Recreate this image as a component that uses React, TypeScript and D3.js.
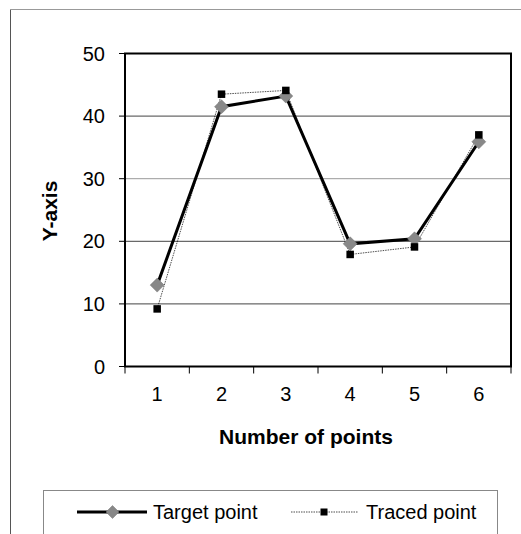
import React from "react";
import * as d3 from "d3";

const categories = ["1", "2", "3", "4", "5", "6"];
const targetValues = [13.0, 41.5, 43.2, 19.6, 20.4, 35.9];
const tracedValues = [9.2, 43.5, 44.1, 17.9, 19.1, 37.0];
const yTicks = [0, 10, 20, 30, 40, 50];
const seriesNames = ["Target point", "Traced point"];

export default function App() {
  const W = 521, H = 534;
  const left = 125, right = 511, top = 53.5, bottom = 366.5;
  const x = d3.scaleBand<string>().domain(categories).range([left, right]);
  const y = d3.scaleLinear().domain([0, 50]).range([bottom, top]);
  const cx = (c: string) => (x(c) as number) + x.bandwidth() / 2;
  const line = d3.line<number>().x((_, i) => cx(categories[i])).y((d) => y(d));
  const font = "'Liberation Sans', Arial, sans-serif";
  const diamond = (px: number, py: number, r = 7) =>
    `M${px},${py - r}L${px + r},${py}L${px},${py + r}L${px - r},${py}Z`;
  const tickXs = [...categories.map((c) => x(c) as number), right];
  return (
    <svg width={W} height={H} style={{ position: "absolute", left: 0, top: 0 }} fontFamily={font}>
      <rect x={0} y={0} width={W} height={H} fill="#fff" />
      <line x1={10.5} x2={10.5} y1={9} y2={H} stroke="#555" strokeWidth={1} />
      <line x1={10} x2={W} y1={9.5} y2={9.5} stroke="#999" strokeWidth={1} />
      {yTicks.filter((t) => t > 0 && t < 50).map((t) => (
        <line key={t} x1={left} x2={right} y1={y(t)} y2={y(t)} stroke={t === 30 ? "#999" : "#444"} strokeWidth={1} />
      ))}
      {yTicks.map((t) => (
        <g key={t}>
          <line x1={119} x2={left} y1={y(t)} y2={y(t)} stroke="#000" />
          <text x={105} y={y(t) + 7} textAnchor="end" fontSize={20}>{t}</text>
        </g>
      ))}
      {tickXs.map((tx, i) => (
        <line key={i} x1={tx} x2={tx} y1={bottom} y2={bottom + 7} stroke="#000" />
      ))}
      {categories.map((c) => (
        <text key={c} x={cx(c)} y={401} textAnchor="middle" fontSize={20}>{c}</text>
      ))}
      <rect x={left} y={top} width={right - left} height={bottom - top} fill="none" stroke="#000" strokeWidth={2} />
      <path d={line(tracedValues) || ""} fill="none" stroke="#000" strokeWidth={0.7} strokeDasharray="1.5,1" />
      <path d={line(targetValues) || ""} fill="none" stroke="#000" strokeWidth={3} />
      {targetValues.map((v, i) => (
        <path key={"t" + i} d={diamond(cx(categories[i]), y(v))} fill="#888" stroke="#777" strokeWidth={0.5} />
      ))}
      {tracedValues.map((v, i) => (
        <rect key={"r" + i} x={cx(categories[i]) - 3.75} y={y(v) - 3.75} width={7.5} height={7.5} fill="#000" />
      ))}
      <text x={306} y={444} textAnchor="middle" fontSize={21} fontWeight="bold">Number of points</text>
      <text transform={`translate(57,211) rotate(-90)`} textAnchor="middle" fontSize={21} fontWeight="bold">Y-axis</text>
      <rect x={43.5} y={490.5} width={454} height={80} fill="none" stroke="#888" />
      <line x1={77} x2={147} y1={512} y2={512} stroke="#000" strokeWidth={3} />
      <path d={diamond(112.5, 512, 6.5)} fill="#888" stroke="#777" strokeWidth={0.5} />
      <text x={153} y={519} fontSize={20}>{seriesNames[0]}</text>
      <line x1={291} x2={358} y1={512} y2={512} stroke="#000" strokeWidth={0.7} strokeDasharray="1.5,1" />
      <rect x={320.5} y={508.5} width={7} height={7} fill="#000" />
      <text x={366} y={519} fontSize={20}>{seriesNames[1]}</text>
    </svg>
  );
}
